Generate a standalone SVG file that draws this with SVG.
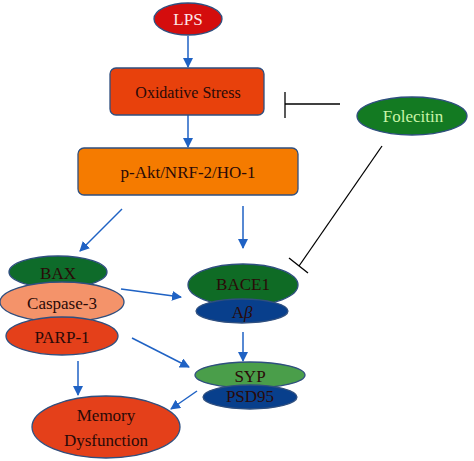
<svg xmlns="http://www.w3.org/2000/svg" width="474" height="461" viewBox="0 0 474 461" font-family="'Liberation Serif', 'DejaVu Serif', serif">
<style>
text{font-family:'Liberation Serif','DejaVu Serif',serif;font-size:17px;text-anchor:middle;dominant-baseline:central;fill:#2a0a08}
.node{stroke:#2f4f7f;stroke-width:1.3}
.arr{stroke:#1f62c4;stroke-width:1.5;fill:none;marker-end:url(#ah)}
.inh{stroke:#000;stroke-width:1.3;fill:none}
</style>
<defs>
<marker id="ah" viewBox="0 0 10 10" refX="9" refY="5" markerWidth="10" markerHeight="10" markerUnits="userSpaceOnUse" orient="auto">
<path d="M0,0 L10,5 L0,10 z" fill="#1f62c4"/>
</marker>
</defs>
<g id="connectors">
<line class="arr" x1="188" y1="36" x2="188" y2="67"/>
<line class="arr" x1="188" y1="115" x2="188" y2="147"/>
<line class="arr" x1="122" y1="209" x2="80" y2="251"/>
<line class="arr" x1="243" y1="206" x2="243" y2="248"/>
<line class="arr" x1="121" y1="289" x2="181" y2="297"/>
<line class="arr" x1="132" y1="338" x2="189" y2="367"/>
<line class="arr" x1="78" y1="361" x2="78" y2="395"/>
<line class="arr" x1="243" y1="332" x2="243" y2="361"/>
<line class="arr" x1="197" y1="391" x2="171" y2="409"/>
<line class="inh" x1="340" y1="104" x2="285" y2="104"/>
<line class="inh" x1="285" y1="92" x2="285" y2="118"/>
<line class="inh" x1="382" y1="146" x2="299" y2="266"/>
<line class="inh" x1="289" y1="258" x2="308" y2="273"/>
</g>
<g id="lps"><ellipse class="node" cx="188" cy="19" rx="34" ry="16" fill="#d40d0d"/><text x="188" y="19" style="fill:#fde6e6">LPS</text></g>
<g id="oxidative"><rect class="node" x="110" y="68" width="154" height="47" rx="6" fill="#e8410c"/><text x="188" y="92" style="font-size:16px">Oxidative Stress</text></g>
<g id="folecitin"><ellipse class="node" cx="412" cy="116" rx="55" ry="19" fill="#137a22"/><text x="413" y="116" style="fill:#c9f5a8">Folecitin</text></g>
<g id="pakt"><rect class="node" x="78" y="148" width="220" height="47" rx="6" fill="#f57b00"/><text x="188" y="172">p-Akt/NRF-2/HO-1</text></g>
<g id="bax"><ellipse class="node" cx="58" cy="272" rx="49" ry="16" fill="#0e6b2a"/><text x="58" y="273">BAX</text></g>
<g id="caspase"><ellipse class="node" cx="62" cy="302" rx="62" ry="20" fill="#f4936a"/><text x="62" y="303">Caspase-3</text></g>
<g id="parp"><ellipse class="node" cx="62" cy="336" rx="56" ry="19" fill="#e4401a"/><text x="62" y="337">PARP-1</text></g>
<g id="memory"><ellipse class="node" cx="106" cy="427" rx="74" ry="31" fill="#e4401a"/><text x="106" y="415">Memory</text><text x="106" y="440">Dysfunction</text></g>
<g id="bace1"><ellipse class="node" cx="243" cy="285" rx="55" ry="21" fill="#0f6b25"/><text x="243" y="284">BACE1</text></g>
<g id="abeta"><ellipse class="node" cx="242" cy="311" rx="46" ry="12" fill="#083f8c"/><text x="242" y="312">A<tspan font-style="italic">β</tspan></text></g>
<g id="syp"><ellipse class="node" cx="250" cy="375" rx="55" ry="13" fill="#4a9e4a"/><text x="250" y="376">SYP</text></g>
<g id="psd95"><ellipse class="node" cx="250" cy="397" rx="47" ry="12" fill="#083f8c"/><text x="250" y="396">PSD95</text></g>
</svg>
